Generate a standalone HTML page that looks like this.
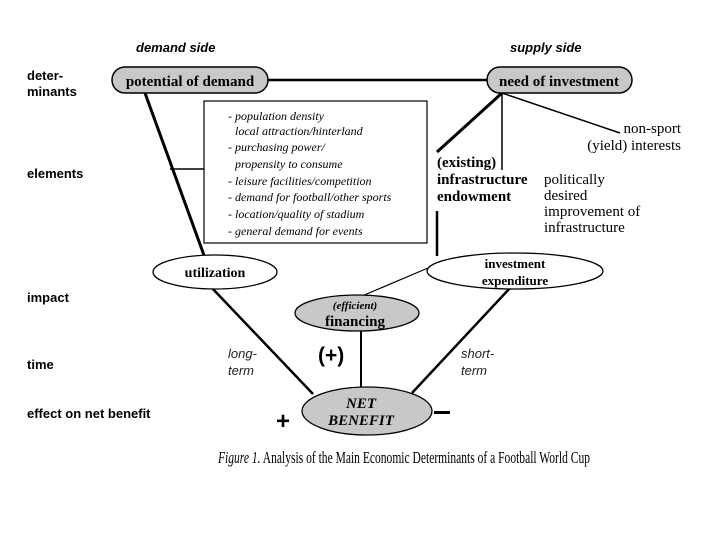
<!DOCTYPE html>
<html><head><meta charset="utf-8"><style>
html,body{margin:0;padding:0;background:#fff;width:720px;height:540px;overflow:hidden}
svg{display:block}
.s{font-family:"Liberation Sans",sans-serif;font-weight:bold}
.r{font-family:"Liberation Serif",serif}
</style></head><body>
<svg width="720" height="540" viewBox="0 0 720 540" xmlns="http://www.w3.org/2000/svg">
<g class="s" fill="#000" style="font-size:13px">
<text x="136" y="52" font-style="italic">demand side</text>
<text x="510" y="52" font-style="italic">supply side</text>
<text x="27" y="80">deter-</text>
<text x="27" y="96">minants</text>
<text x="27" y="178">elements</text>
<text x="27" y="302">impact</text>
<text x="27" y="369">time</text>
<text x="27" y="418">effect on net benefit</text>
</g>
<g stroke="#000" fill="none">
<line x1="268" y1="80" x2="487" y2="80" stroke-width="2.5"/>
<line x1="145" y1="93" x2="205" y2="258" stroke-width="3"/>
<line x1="170" y1="169" x2="204" y2="169" stroke-width="1.5"/>
<line x1="502" y1="93" x2="437" y2="152" stroke-width="3"/>
<line x1="502" y1="93" x2="502" y2="170" stroke-width="1.5"/>
<line x1="502" y1="93" x2="620" y2="133" stroke-width="1.5"/>
<line x1="437" y1="211" x2="437" y2="256" stroke-width="2.5"/>
<line x1="428" y1="268" x2="362" y2="296" stroke-width="1.2"/>
<line x1="212" y1="288" x2="313" y2="394" stroke-width="2.5"/>
<line x1="510" y1="288" x2="412" y2="393" stroke-width="2.5"/>
<line x1="361" y1="331" x2="361" y2="390" stroke-width="2"/>
</g>
<rect x="112" y="67" width="156" height="26" rx="13" fill="#c8c8c8" stroke="#000" stroke-width="1.5"/>
<rect x="487" y="67" width="145" height="26" rx="13" fill="#c8c8c8" stroke="#000" stroke-width="1.5"/>
<text x="190" y="86" text-anchor="middle" class="r" font-weight="bold" font-size="15">potential of demand</text>
<text x="559" y="86" text-anchor="middle" class="r" font-weight="bold" font-size="15">need of investment</text>
<rect x="204" y="101" width="223" height="142" fill="#fff" stroke="#000" stroke-width="1.2"/>
<g class="r" font-style="italic" font-size="12">
<text x="228" y="120">- population density</text>
<text x="235" y="135">local attraction/hinterland</text>
<text x="228" y="151">- purchasing power/</text>
<text x="235" y="168">propensity to consume</text>
<text x="228" y="185">- leisure facilities/competition</text>
<text x="228" y="201">- demand for football/other sports</text>
<text x="228" y="218">- location/quality of stadium</text>
<text x="228" y="235">- general demand for events</text>
</g>
<g class="r" font-size="15">
<text x="437" y="167" font-weight="bold">(existing)</text>
<text x="437" y="184" font-weight="bold">infrastructure</text>
<text x="437" y="201" font-weight="bold">endowment</text>
<text x="544" y="184">politically</text>
<text x="544" y="200">desired</text>
<text x="544" y="216">improvement of</text>
<text x="544" y="232">infrastructure</text>
<text x="681" y="133" text-anchor="end">non-sport</text>
<text x="681" y="150" text-anchor="end">(yield) interests</text>
</g>
<ellipse cx="215" cy="272" rx="62" ry="17" fill="#fff" stroke="#000" stroke-width="1.3"/>
<text x="215" y="277" text-anchor="middle" class="r" font-weight="bold" font-size="14">utilization</text>
<ellipse cx="515" cy="271" rx="88" ry="18" fill="#fff" stroke="#000" stroke-width="1.3"/>
<text x="515" y="268" text-anchor="middle" class="r" font-weight="bold" font-size="13">investment</text>
<text x="515" y="285" text-anchor="middle" class="r" font-weight="bold" font-size="13">expenditure</text>
<ellipse cx="357" cy="313" rx="62" ry="18" fill="#c8c8c8" stroke="#000" stroke-width="1.3"/>
<text x="355" y="309" text-anchor="middle" class="r" font-style="italic" font-weight="bold" font-size="11">(efficient)</text>
<text x="355" y="326" text-anchor="middle" class="r" font-weight="bold" font-size="15">financing</text>
<ellipse cx="367" cy="411" rx="65" ry="24" fill="#c8c8c8" stroke="#000" stroke-width="1.3"/>
<text x="361" y="408" text-anchor="middle" class="r" font-style="italic" font-weight="bold" font-size="15">NET</text>
<text x="361" y="425" text-anchor="middle" class="r" font-style="italic" font-weight="bold" font-size="15">BENEFIT</text>
<g font-family="Liberation Sans,sans-serif" font-style="italic" font-size="13" fill="#222">
<text x="228" y="358">long-</text>
<text x="228" y="375">term</text>
<text x="461" y="358">short-</text>
<text x="461" y="375">term</text>
</g>
<text x="318" y="362" class="s" style="font-size:21px">(+)</text>
<text x="276" y="429" class="s" style="font-size:24px">+</text>
<rect x="434" y="411" width="16" height="3" fill="#000"/>
<text x="218" y="463" class="r" font-size="17" textLength="372" lengthAdjust="spacingAndGlyphs"><tspan font-style="italic">Figure 1.</tspan> Analysis of the Main Economic Determinants of a Football World Cup</text>
</svg>
</body></html>
